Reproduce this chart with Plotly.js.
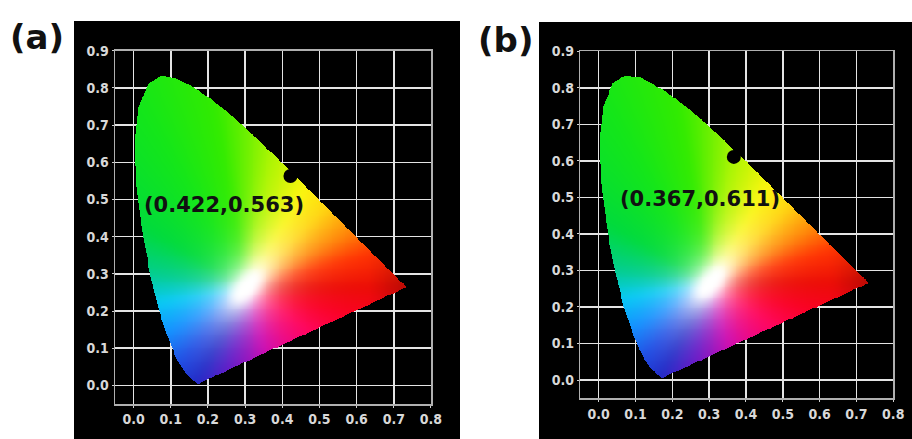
<!DOCTYPE html>
<html><head><meta charset="utf-8">
<script src="https://cdn.plot.ly/plotly-3.0.1.min.js"></script>
<style>html,body{margin:0;padding:0;background:#fff}#chart{width:912px;height:439px}</style>
</head><body><div id="chart"></div>
<script>
// CIE 1931 spectral locus (chromaticity x, y), 380 nm -> 700 nm
const locusX = [0.1741,0.1733,0.1726,0.1714,0.1689,0.1644,0.1566,0.1510,0.1440,0.1355,0.1241,0.1096,0.0913,0.0687,0.0454,0.0235,0.0082,0.0039,0.0139,0.0389,0.0743,0.1142,0.1547,0.1929,0.2296,0.2658,0.3016,0.3373,0.3731,0.4087,0.4441,0.4788,0.5125,0.5448,0.5752,0.6029,0.6270,0.6658,0.6915,0.7079,0.7190,0.7260,0.7300,0.7334,0.7347];
const locusY = [0.0050,0.0048,0.0048,0.0051,0.0069,0.0109,0.0177,0.0227,0.0297,0.0399,0.0578,0.0868,0.1327,0.2007,0.2950,0.4127,0.5384,0.6548,0.7502,0.8120,0.8338,0.8262,0.8059,0.7816,0.7543,0.7243,0.6923,0.6589,0.6245,0.5896,0.5547,0.5202,0.4866,0.4544,0.4242,0.3965,0.3725,0.3340,0.3083,0.2920,0.2809,0.2740,0.2700,0.2666,0.2653];

// Measured colour coordinates
const panelNames = ["(a)", "(b)"];
const cieX = [0.422, 0.367];
const cieY = [0.563, 0.611];
const cieLabels = ["(0.422,0.563)", "(0.367,0.611)"];

// Fill palette of the diagram (hue direction seen from the white spot -> colour)
const hueAngles = [0, 15, 28, 45, 60, 80, 100, 120, 150, 172, 190, 210, 228, 242, 258, 285, 305, 325, 345, 360];
const hueColors = [[235,12,5],[255,50,0],[255,130,0],[255,210,0],[250,245,0],[170,245,0],[50,235,0],[20,230,25],[0,218,60],[0,205,140],[0,200,245],[0,135,255],[10,60,225],[20,30,195],[90,10,195],[200,0,175],[235,0,130],[255,0,90],[250,0,35],[235,12,5]];
const whiteX = 0.305, whiteY = 0.265;

const W = 912, H = 439;
const px = v => v / W;
const py = v => 1 - v / H;

function inside(x, y) {
  let c = false;
  const n = locusX.length;
  for (let i = 0, j = n - 1; i < n; j = i++) {
    const xi = locusX[i], yi = locusY[i], xj = locusX[j], yj = locusY[j];
    if (((yi > y) !== (yj > y)) && (x < (xj - xi) * (y - yi) / (yj - yi) + xi)) c = !c;
  }
  return c;
}
function hueColor(a) {
  for (let k = 1; k < hueAngles.length; k++) {
    if (a <= hueAngles[k]) {
      const t = (a - hueAngles[k - 1]) / (hueAngles[k] - hueAngles[k - 1]);
      const c0 = hueColors[k - 1], c1 = hueColors[k];
      return [c0[0] + (c1[0] - c0[0]) * t, c0[1] + (c1[1] - c0[1]) * t, c0[2] + (c1[2] - c0[2]) * t];
    }
  }
  return hueColors[hueColors.length - 1];
}
const rot = 50 * Math.PI / 180;
function fillColor(x, y) {
  const dx = x - whiteX, dy = y - whiteY;
  let a = Math.atan2(dy, dx) * 180 / Math.PI; if (a < 0) a += 360;
  const u = dx * Math.cos(rot) + dy * Math.sin(rot), v = -dx * Math.sin(rot) + dy * Math.cos(rot);
  const d = Math.sqrt((u / 2.0) * (u / 2.0) + v * v);
  const f = 1 - Math.exp(-Math.max(0, d - 0.022) / 0.047);
  const h = hueColor(a);
  let dk = 1;
  const dist = Math.sqrt(dx * dx + dy * dy);
  if (a < 25 || a > 335) {
    const w = a < 25 ? 1 - a / 25 : 1 - (360 - a) / 25;
    dk = 1 - 0.22 * w * Math.min(1, Math.max(0, (dist - 0.33) / 0.1));
  }
  return [(255 + (h[0] - 255) * f) * dk, (255 + (h[1] - 255) * f) * dk, (255 + (h[2] - 255) * f) * dk];
}

const step = 0.0025, x0 = -0.05, y0 = -0.05;
const nx = Math.round(0.85 / step), ny = Math.round(0.95 / step);
// colour field, then a light box blur for soft transitions
let field = [0, 1, 2].map(() => new Float32Array(nx * ny));
for (let i = 0; i < ny; i++) {
  const y = y0 + (i + 0.5) * step;
  for (let j = 0; j < nx; j++) {
    const c = fillColor(x0 + (j + 0.5) * step, y);
    field[0][i * nx + j] = c[0]; field[1][i * nx + j] = c[1]; field[2][i * nx + j] = c[2];
  }
}
function blur(src, r) {
  const tmp = new Float32Array(nx * ny), out = new Float32Array(nx * ny);
  for (let i = 0; i < ny; i++) for (let j = 0; j < nx; j++) {
    let s = 0, n = 0;
    for (let k = -r; k <= r; k++) { const jj = j + k; if (jj >= 0 && jj < nx) { s += src[i * nx + jj]; n++; } }
    tmp[i * nx + j] = s / n;
  }
  for (let i = 0; i < ny; i++) for (let j = 0; j < nx; j++) {
    let s = 0, n = 0;
    for (let k = -r; k <= r; k++) { const ii = i + k; if (ii >= 0 && ii < ny) { s += tmp[ii * nx + j]; n++; } }
    out[i * nx + j] = s / n;
  }
  return out;
}
field = field.map(ch => blur(blur(ch, 4), 4));
const img = [];
for (let i = 0; i < ny; i++) {
  const row = [];
  const y = y0 + (i + 0.5) * step;
  for (let j = 0; j < nx; j++) {
    const x = x0 + (j + 0.5) * step;
    const p = i * nx + j;
    row.push(inside(x, y) ? [Math.round(field[0][p]), Math.round(field[1][p]), Math.round(field[2][p]), 1] : [0, 0, 0, 0]);
  }
  img.push(row);
}

const traces = [];
["", "2"].forEach((s, k) => {
  traces.push({type: 'image', z: img, colormodel: 'rgba', x0: x0 + step / 2, dx: step, y0: y0 + step / 2, dy: step,
    xaxis: 'x' + s, yaxis: 'y' + s, hoverinfo: 'skip'});
  traces.push({type: 'scatter', mode: 'markers', x: [cieX[k]], y: [cieY[k]], xaxis: 'x' + s, yaxis: 'y' + s,
    marker: {color: '#000', size: 14}, showlegend: false, hoverinfo: 'skip'});
});

const tickFont = {family: 'Liberation Sans Narrow, DejaVu Sans Condensed, sans-serif', size: 14, color: '#d8d8d8', weight: 'bold'};
function ax(range, domain, anchor) {
  return {range: range, domain: domain, anchor: anchor, dtick: 0.1, tick0: 0, tickformat: '.1f',
    showgrid: true, gridcolor: '#e4e4e4', gridwidth: 1.5, zeroline: false,
    showline: true, linecolor: '#b0b0b0', linewidth: 1.5, mirror: true,
    ticks: 'outside', ticklen: 2, tickcolor: '#cfcfcf', tickfont: tickFont,
    scaleanchor: false, autorange: false, fixedrange: true};
}

const layout = {
  width: W, height: H, margin: {l: 0, r: 0, t: 0, b: 0},
  paper_bgcolor: '#fff', plot_bgcolor: '#000', showlegend: false,
  xaxis: ax([-0.05, 0.8001], [px(115), px(431)], 'y'),
  yaxis: ax([-0.05, 0.9001], [py(404), py(50.7)], 'x'),
  xaxis2: ax([-0.05, 0.8001], [px(580.3), px(893.3)], 'y2'),
  yaxis2: ax([-0.05, 0.9001], [py(398.3), py(51.3)], 'x2'),
  shapes: [
    {type: 'rect', xref: 'paper', yref: 'paper', x0: px(74), x1: px(460), y0: 0, y1: py(21), fillcolor: '#000', line: {width: 0}, layer: 'below'},
    {type: 'rect', xref: 'paper', yref: 'paper', x0: px(539), x1: 1, y0: 0, y1: py(22), fillcolor: '#000', line: {width: 0}, layer: 'below'}
  ],
  annotations: [
    {text: panelNames[0], xref: 'paper', yref: 'paper', x: px(37), y: py(37), showarrow: false, xanchor: 'center', yanchor: 'middle',
     font: {family: 'DejaVu Sans', size: 34, color: '#111', weight: 'bold'}},
    {text: panelNames[1], xref: 'paper', yref: 'paper', x: px(505), y: py(40), showarrow: false, xanchor: 'center', yanchor: 'middle',
     font: {family: 'DejaVu Sans', size: 34, color: '#111', weight: 'bold'}},
    {text: cieLabels[0], xref: 'paper', yref: 'paper', x: px(224), y: py(205), showarrow: false, xanchor: 'center', yanchor: 'middle',
     font: {family: 'DejaVu Sans', size: 21, color: '#111', weight: 'bold'}},
    {text: cieLabels[1], xref: 'paper', yref: 'paper', x: px(700), y: py(199), showarrow: false, xanchor: 'center', yanchor: 'middle',
     font: {family: 'DejaVu Sans', size: 21, color: '#111', weight: 'bold'}}
  ]
};

Plotly.newPlot('chart', traces, layout, {displayModeBar: false, staticPlot: true});
</script>
</body></html>
